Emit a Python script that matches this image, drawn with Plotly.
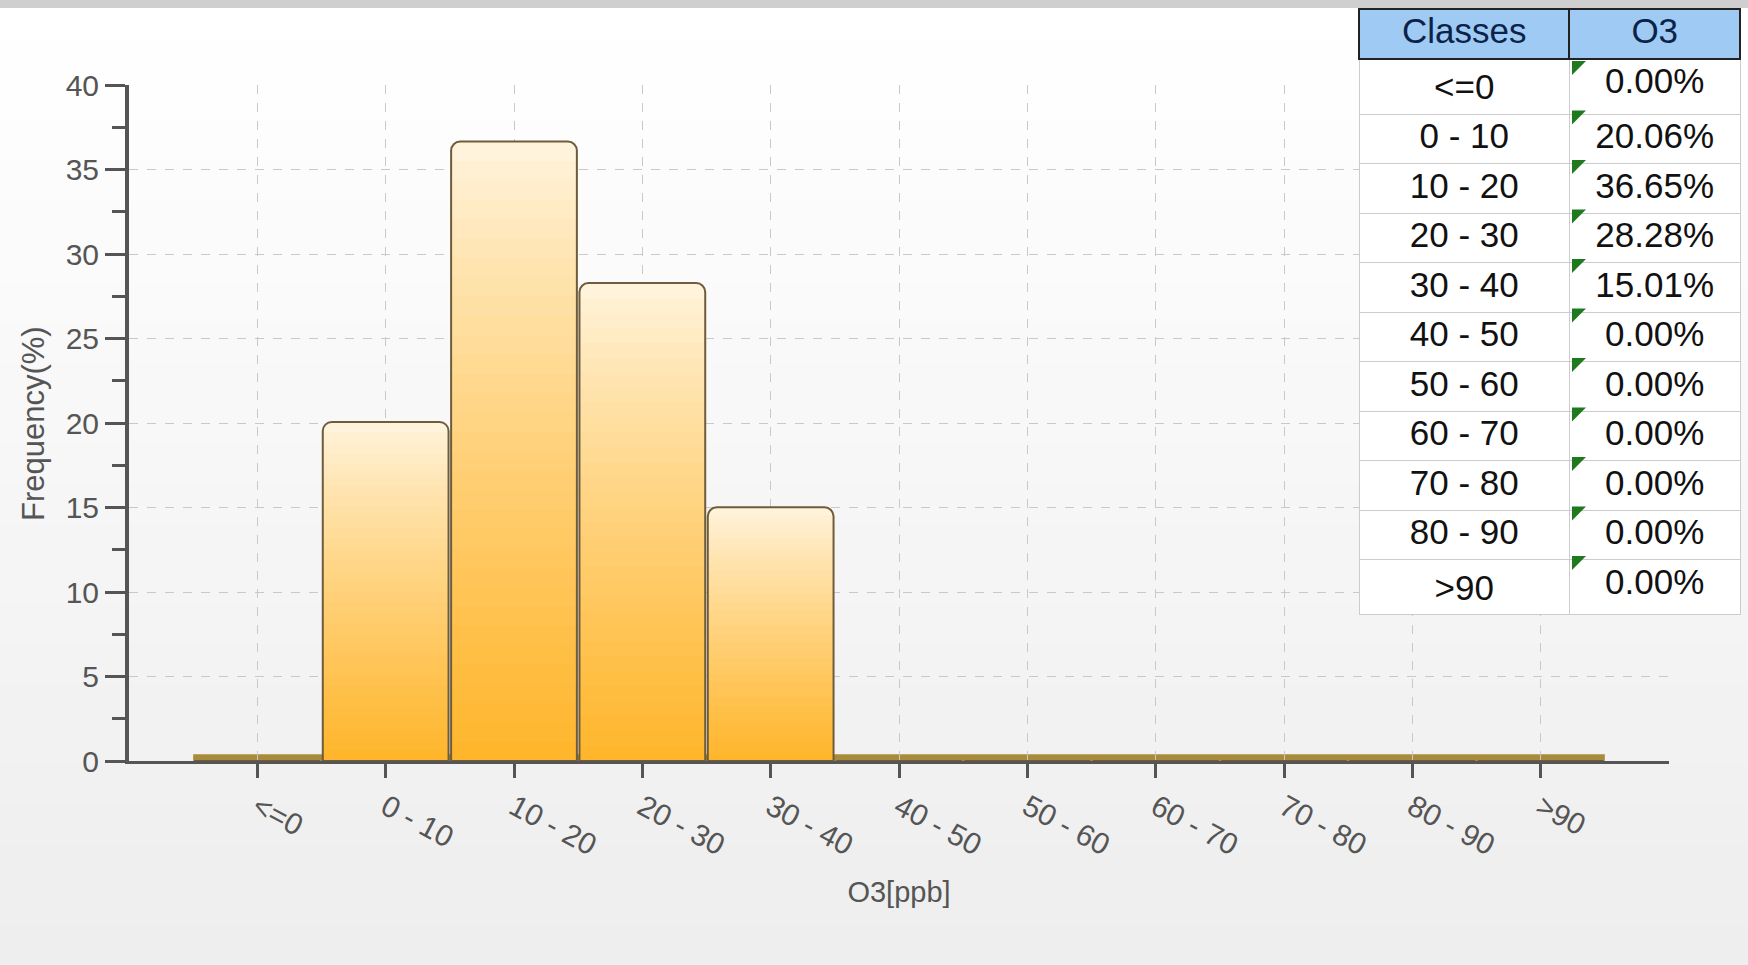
import plotly.graph_objects as go

classes = ["<=0", "0 - 10", "10 - 20", "20 - 30", "30 - 40", "40 - 50",
           "50 - 60", "60 - 70", "70 - 80", "80 - 90", ">90"]
tick_labels = ["<=0", "0 - 10", "10 - 20", "20 - 30", "30 - 40", "40 - 50",
               "50 - 60", "60 - 70", "70 - 80", "80 - 90", ">90"]
o3_freq = [0.00, 20.06, 36.65, 28.28, 15.01, 0.00, 0.00, 0.00, 0.00, 0.00, 0.00]

W, H = 1748, 965
ML, MR, MT, MB = 129, 7, 9, 204
PW, PH = W - ML - MR, H - MT - MB
FONT = "Liberation Sans, Arial, sans-serif"
TXT = "#555555"


def px_x(px):
    return (px - ML) / PW


def px_y(py):
    return 1 - (py - MT) / PH


def mix(c1, c2, t):
    return "rgb(%d,%d,%d)" % tuple(round(a + (b - a) * t) for a, b in zip(c1, c2))


fig = go.Figure()

# bars with a vertical cream -> orange shading (same bars drawn as fill layers)
TOP_C, BOT_C = (255, 243, 220), (255, 182, 44)
N = 32
for k in range(N):
    frac = 1 - k / N
    fig.add_trace(go.Bar(
        x=classes, y=[v * frac for v in o3_freq],
        marker=dict(color=mix(TOP_C, BOT_C, (k / (N - 1)) ** 0.85), line=dict(width=0),
                    cornerradius=9 if k == 0 else 0),
        showlegend=False, hoverinfo="skip",
    ))
# outline of the bars
fig.add_trace(go.Bar(
    x=classes, y=o3_freq,
    marker=dict(color="rgba(0,0,0,0)", line=dict(color="#6e5c3a", width=2),
                cornerradius=9),
    showlegend=False, hoverinfo="x+y",
))

HEADER_H, ROW_H = 50, 49.5
table_classes = [c.replace("<", "&lt;").replace(">", "&gt;") for c in classes]
fig.add_trace(go.Table(
    domain=dict(x=[px_x(1359), 1.0], y=[0.12, 1.0]),
    columnwidth=[211, 171],
    header=dict(values=["Classes", "O3"],
                fill_color="#9fcaf3",
                line=dict(color="#222222", width=2),
                font=dict(family=FONT, size=35, color="#0b2348"),
                align="center", height=HEADER_H),
    cells=dict(values=[table_classes, [f"{v:.2f}%" for v in o3_freq]],
               fill_color="white",
               line=dict(color="#cccccc", width=1),
               font=dict(family=FONT, size=35, color="#111111"),
               align="center", height=ROW_H),
))

# background: soft vertical gradient (white at top -> light grey at bottom)
shapes = []
nb = 24
y_lo, y_hi = -MB / PH, 1 + MT / PH
for i in range(nb):
    t = i / (nb - 1)
    g = int(round(255 - 17 * (1 - t)))
    shapes.append(dict(type="rect", xref="paper", yref="paper",
                       x0=-ML / PW, x1=1 + MR / PW,
                       y0=y_lo + (y_hi - y_lo) * i / nb,
                       y1=y_lo + (y_hi - y_lo) * (i + 1) / nb + 0.002,
                       fillcolor=f"rgb({g},{g},{g})", line=dict(width=0),
                       layer="below"))
# top grey frame band
shapes.append(dict(type="rect", xref="paper", yref="paper",
                   x0=-ML / PW, x1=1 + MR / PW, y0=1 + 1 / PH, y1=1 + MT / PH,
                   fillcolor="#cfcfcf", line=dict(width=0), layer="below"))
# golden base strip along the axis (zero-height bars)
shapes.append(dict(type="rect", xref="x", yref="y", x0=-0.5, x1=len(classes) - 0.5,
                   y0=0, y1=0.4, fillcolor="#a88c3c", line=dict(width=0),
                   layer="below"))
# small green corner markers in the value cells of the table
col2_left = 1570
for i in range(len(classes)):
    top = MT + HEADER_H + ROW_H * i + 2
    x0, x1 = px_x(col2_left + 2), px_x(col2_left + 16)
    y0, y1 = px_y(top), px_y(top + 14)
    shapes.append(dict(type="path", xref="paper", yref="paper",
                       path=f"M {x0},{y0} L {x1},{y0} L {x0},{y1} Z",
                       fillcolor="#1f7a1f", line=dict(width=0), layer="above"))

fig.update_layout(
    width=W, height=H,
    margin=dict(l=ML, r=MR, t=MT, b=MB, autoexpand=False),
    paper_bgcolor="#f3f3f3",
    plot_bgcolor="rgba(0,0,0,0)",
    barmode="overlay",
    bargap=0.02,
    font=dict(family=FONT, size=28, color=TXT),
    shapes=shapes,
    annotations=[dict(text="Frequency(%)", xref="paper", yref="paper",
                      x=px_x(33), y=px_y(424), textangle=-90, showarrow=False,
                      xanchor="center", yanchor="middle",
                      font=dict(size=31, color=TXT, family=FONT))],
    xaxis=dict(
        domain=[0, 1540 / PW], automargin=False,
        type="category", range=[-1, 11.0],
        tickvals=classes, ticktext=tick_labels, tickangle=28,
        showline=True, linecolor=TXT, linewidth=3,
        ticks="outside", ticklen=14, tickwidth=3, tickcolor=TXT,
        showgrid=True, gridcolor="#c9c9c9", griddash="dash", gridwidth=1,
        tickfont=dict(size=30, color=TXT),
        title=dict(text="O3[ppb]", font=dict(size=29, color=TXT), standoff=22),
        zeroline=False,
    ),
    yaxis=dict(
        domain=[0, 676 / PH], automargin=False,
        range=[0, 40], dtick=5,
        showline=True, linecolor=TXT, linewidth=4,
        ticks="outside", ticklen=20, tickwidth=3, tickcolor=TXT,
        minor=dict(dtick=2.5, ticks="outside", ticklen=13, tickwidth=3,
                   tickcolor=TXT, showgrid=False),
        showgrid=True, gridcolor="#c9c9c9", griddash="dash", gridwidth=1,
        tickfont=dict(size=30, color=TXT),
        zeroline=False,
    ),
)

fig.write_html("out.html", config={"displayModeBar": False},
               post_script="document.body.style.margin='0px';")
